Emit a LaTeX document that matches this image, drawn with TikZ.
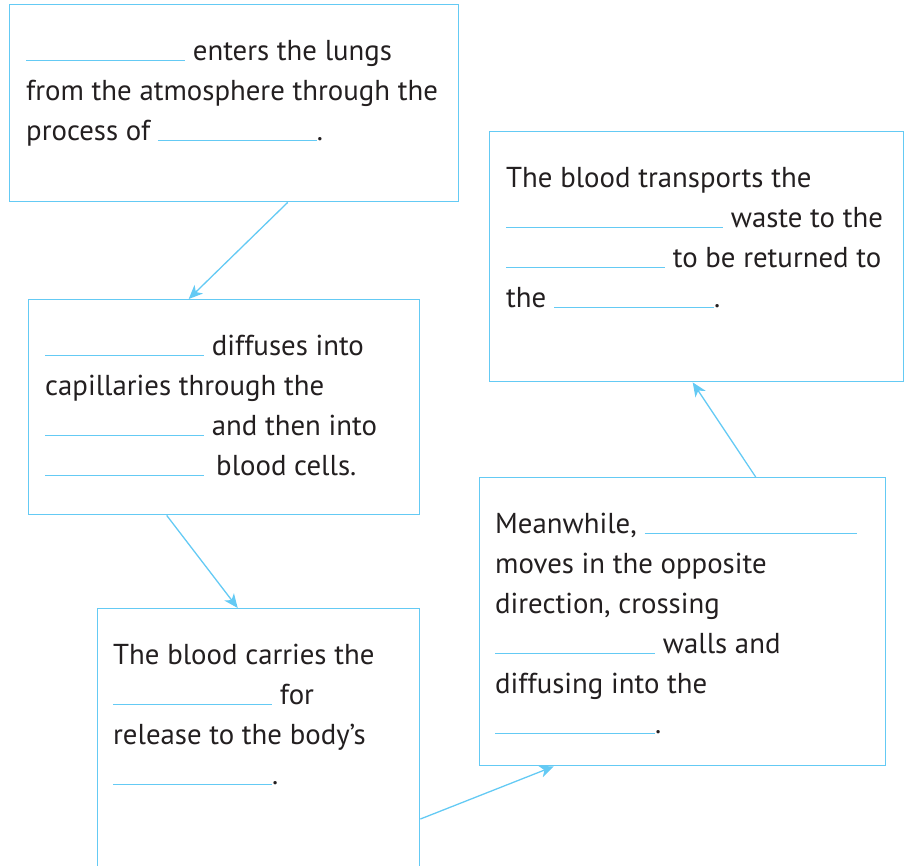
\documentclass[tikz,border=0pt]{standalone}
\usepackage{fontspec}
\setmainfont{PT Sans}
\usetikzlibrary{arrows.meta,positioning}
\definecolor{linecol}{RGB}{100,202,244}
\definecolor{inkcol}{RGB}{35,31,32}
\newcommand{\answerline}[1][159pt]{\textcolor{linecol}{\rule[-0.7pt]{#1}{1.3pt}}}
\tikzset{
  card/.style={draw=linecol,line width=1.4pt,anchor=north west,inner sep=0pt},
  cardtext/.style={anchor=north west,inner sep=0pt,align=left,text=inkcol,font=\fontsize{28.8}{40}\selectfont},
  flow/.style={draw=linecol,line width=1.3pt,-{Stealth[length=14pt,width=12pt,inset=4pt]}}
}
\begin{document}
\begin{tikzpicture}[x=1pt,y=-1pt]
                \clip (0,0) rectangle (904,865);
                \node[card,minimum width=449pt,minimum height=197pt] (b1) at (9,4) {};
                \node[card,minimum width=391pt,minimum height=215pt] (b2) at (28,299) {};
                \node[card,minimum width=322pt,minimum height=280pt] (b3) at (97,608) {};
                \node[card,minimum width=406pt,minimum height=288pt] (b4) at (479,477) {};
                \node[card,minimum width=414pt,minimum height=250pt] (b5) at (489,131) {};

                \node[cardtext,below right=28pt and 17pt of b1.north west] (t1) {\strut\answerline{} enters the lungs\\from the atmosphere through the\\process of \answerline.};
                \node[cardtext,below right=28pt and 17pt of b2.north west] (t2) {\strut\answerline{} diffuses into\\capillaries through the\\\answerline{} and then into\\\answerline\hspace{12pt}blood cells.};
                \node[cardtext,below right=28pt and 16pt of b3.north west] (t3) {\strut The blood carries the\\\answerline{} for\\release to the body’s\\\answerline.};
                \node[cardtext,below right=28pt and 16pt of b4.north west] (t4) {\strut Meanwhile, \answerline[212pt]\\moves in the opposite\\direction, crossing\\\answerline[160pt] walls and\\diffusing into the\\\answerline[160pt].};
                \node[cardtext,below right=28pt and 17pt of b5.north west] (t5) {\strut The blood transports the\\\answerline[217pt] waste to the\\\answerline{} to be returned to\\the \answerline[160pt].};

                \draw[flow] ([xshift=53.5pt]b1.south) -- ([xshift=-35.5pt]b2.north);
                \draw[flow] ([xshift=-57.5pt]b2.south) -- ([xshift=-21pt]b3.north);
                \draw[flow] ([yshift=-211pt]b3.north east) -- ([xshift=-129pt]b4.south);
                \draw[flow] ([xshift=73pt]b4.north) -- ([xshift=-4pt]b5.south);
\end{tikzpicture}
\end{document}
